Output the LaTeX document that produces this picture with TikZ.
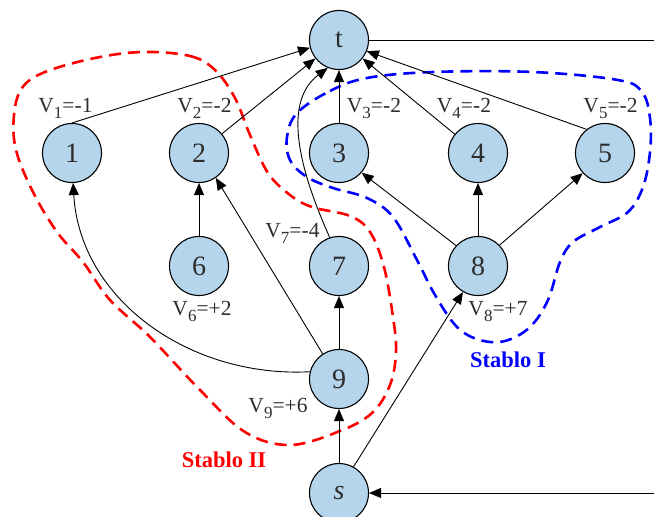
\documentclass[tikz,border=0pt]{standalone}
\usepackage{fontspec}
\setmainfont{Liberation Serif}
\usetikzlibrary{arrows.meta}
\definecolor{nodefill}{RGB}{181,213,236}
\definecolor{txt}{RGB}{45,45,45}
\newcommand{\vsub}[1]{V\raisebox{-6.5pt}{\fontsize{17}{17}\selectfont #1}}
\begin{document}
\begin{tikzpicture}[x=1pt,y=-1pt,
  vnode/.style={circle,draw=black,line width=1.1pt,fill=nodefill,minimum size=59pt,inner sep=0pt,text=txt,font=\fontsize{28}{30}\selectfont},
  edge/.style={line width=0.9pt,-{Triangle[length=12pt,width=10pt]}},
  plain/.style={line width=0.9pt},
  lbl/.style={anchor=base,inner sep=0pt,text=txt,font=\fontsize{21.5}{24}\selectfont},
  setlbl/.style={anchor=base,inner sep=0pt,font=\fontsize{22.5}{26}\selectfont\bfseries},
  redset/.style={red,line width=2.6pt,dash pattern=on 12pt off 7pt},
  blueset/.style={blue,line width=2.6pt,dash pattern=on 12pt off 7pt}
]
\useasboundingbox (0,0) rectangle (654,517);

% dashed regions
\draw[redset] plot[smooth cycle,tension=0.6] coordinates {
 (143,52) (190,56) (215,70) (235,98) (250,135) (268,173) (290,195) (312,207) (350,216) (370,232)
 (384,267) (393,317) (396,352) (390,385) (372,413) (340,431) (290,445) (245,432) (200,390)
 (150,337) (110,300) (83,262) (57,232) (33,192) (16,150) (14,115) (22,88) (45,72) (95,58)};
\draw[blueset] plot[smooth cycle,tension=0.6] coordinates {
 (297,113) (330,91) (367,78) (433,72) (533,72) (618,80) (642,92) (650,118) (650,152) (643,187)
 (628,212) (600,227) (573,242) (560,262) (548,300) (530,327) (505,341) (480,340) (457,327)
 (435,295) (417,260) (393,217) (367,198) (333,188) (307,177) (290,160) (287,137)};

% nodes
\node[vnode] (t) at (339,40) {t};
\node[vnode] (n1) at (72,153) {1};
\node[vnode] (n2) at (199,153) {2};
\node[vnode] (n3) at (339,153) {3};
\node[vnode] (n4) at (478,153) {4};
\node[vnode] (n5) at (605,153) {5};
\node[vnode] (n6) at (199,266) {6};
\node[vnode] (n7) at (339,266) {7};
\node[vnode] (n8) at (478,266) {8};
\node[vnode] (n9) at (339,379) {9};
\node[vnode] (s) at (339,493) {\textit{s}};

\coordinate (tr) at (654,40);
\coordinate (sr) at (654,493);

% edges
\draw[plain] (t.east) -- (tr);
\draw[edge] (sr) -- (s.east);
\draw[edge] (n1.90) -- (t.195);
\draw[edge] (n2.40) -- (t.218);
\draw[edge] (n3.90) -- (t.270);
\draw[edge] (n4.141) -- (t.322);
\draw[edge] (n5.128) -- (t.338);
\draw[edge] (n7.108) .. controls (295,160) and (285,100) .. (t.248);
\draw[edge] (n6.90) -- (n2.270);
\draw[edge] (n8.137) -- (n3.319);
\draw[edge] (n8.90) -- (n4.270);
\draw[edge] (n8.44) -- (n5.222);
\draw[edge] (n9.90) -- (n7.270);
\draw[edge] (n9.123) -- (n2.304);
\draw[edge] (n9.166) .. controls (190,378) and (80,300) .. (n1.272);
\draw[edge] (s.90) -- (n9.270);
\draw[edge] (s.61) -- (n8.240);

% labels
\node[lbl] (l1) at (65.5,112) {\vsub{1}=-1};
\node[lbl] (l2) at (204.5,112) {\vsub{2}=-2};
\node[lbl] (l3) at (374,112) {\vsub{3}=-2};
\node[lbl] (l4) at (464,112) {\vsub{4}=-2};
\node[lbl] (l5) at (610.5,112) {\vsub{5}=-2};
\node[lbl] (l6) at (202,315) {\vsub{6}=+2};
\node[lbl] (l7) at (292.5,237) {\vsub{7}=-4};
\node[lbl] (l8) at (498,315) {\vsub{8}=+7};
\node[lbl] (l9) at (278,412) {\vsub{9}=+6};
\node[setlbl,red] (s2) at (224,467) {Stablo II};
\node[setlbl,blue] (s1) at (508,367) {Stablo I};
\end{tikzpicture}
\end{document}
